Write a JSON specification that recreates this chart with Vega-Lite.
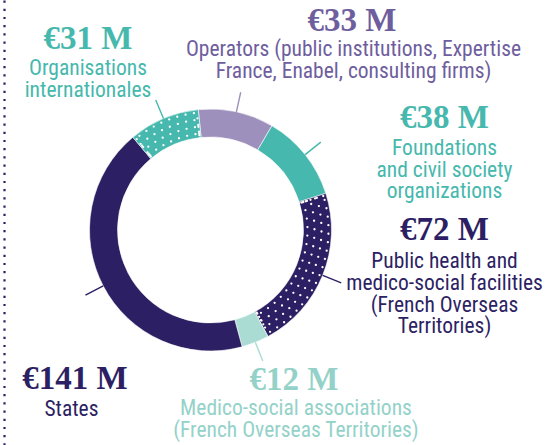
{
  "$schema": "https://vega.github.io/schema/vega-lite/v6.json",
  "width": 413,
  "height": 445,
  "autosize": {"type": "none"},
  "padding": {"left": 4, "top": 0, "right": 137, "bottom": 0},
  "background": "white",
  "config": {"view": {"stroke": null}},
  "data": {
    "values": [
      {"key": "op", "value": 33, "ord": 1, "amount": "€33 M", "desc": "Operators (public institutions, Expertise\nFrance, Enabel, consulting firms)"},
      {"key": "fnd", "value": 38, "ord": 2, "amount": "€38 M", "desc": "Foundations\nand civil society\norganizations"},
      {"key": "ph", "value": 72, "ord": 3, "amount": "€72 M", "desc": "Public health and\nmedico-social facilities\n(French Overseas\nTerritories)"},
      {"key": "med", "value": 12, "ord": 4, "amount": "€12 M", "desc": "Medico-social associations\n(French Overseas Territories)"},
      {"key": "st", "value": 141, "ord": 5, "amount": "€141 M", "desc": "States"},
      {"key": "org", "value": 31, "ord": 6, "amount": "€31 M", "desc": "Organisations\ninternationales"}
    ]
  },
  "transform": [
    {"joinaggregate": [{"op": "sum", "field": "value", "as": "total"}]},
    {"stack": "value", "groupby": [], "sort": [{"field": "ord", "order": "ascending"}], "as": ["v0", "v1"]},
    {"calculate": "datum.v0 / datum.total", "as": "f0"},
    {"calculate": "datum.v1 / datum.total", "as": "f1"},
    {"calculate": "(datum.v0 + datum.v1) / 2 / datum.total", "as": "fmid"}
  ],
  "layer": [
    {
      "mark": {"type": "point", "opacity": 0},
      "encoding": {
        "y": {"field": "value", "type": "quantitative",
          "axis": {"domain": true, "domainColor": "#2d1f63", "domainWidth": 2.2, "domainDash": [2.2, 6], "ticks": false, "labels": false, "grid": false, "title": null}}
      }
    },
    {
      "mark": {"type": "arc", "radius": 121, "radius2": 93, "stroke": "#ffffff", "strokeWidth": 0.6, "yOffset": 7.5},
      "encoding": {
        "theta": {"field": "f0", "type": "quantitative", "stack": null, "scale": {"domain": [0, 1], "range": [-0.10123, 6.18195], "nice": false}},
        "theta2": {"field": "f1"},
        "color": {"field": "key", "type": "nominal", "legend": null,
          "scale": {"domain": ["op", "fnd", "ph", "med", "st", "org"], "range": ["#9d90bd", "#46b8ad", "#2d1f63", "#aadcd4", "#2d1f63", "#46b8ad"]}}
      }
    },
    {
      "transform": [{"filter": {"field": "key", "oneOf": ["org", "ph"]}}],
      "mark": {"type": "arc", "radius": 97, "filled": false, "stroke": "#ffffff", "strokeWidth": 2.3, "strokeDash": [0, 8.5], "strokeCap": "round", "padAngle": 0.03, "yOffset": 7.5},
      "encoding": {"theta": {"field": "f0", "type": "quantitative", "stack": null}, "theta2": {"field": "f1"}}
    },
    {
      "transform": [{"filter": {"field": "key", "oneOf": ["org", "ph"]}}],
      "mark": {"type": "arc", "radius": 104, "filled": false, "stroke": "#ffffff", "strokeWidth": 2.3, "strokeDash": [0, 8.5], "strokeDashOffset": 4.25, "strokeCap": "round", "padAngle": 0.03, "yOffset": 7.5},
      "encoding": {"theta": {"field": "f0", "type": "quantitative", "stack": null}, "theta2": {"field": "f1"}}
    },
    {
      "transform": [{"filter": {"field": "key", "oneOf": ["org", "ph"]}}],
      "mark": {"type": "arc", "radius": 111, "filled": false, "stroke": "#ffffff", "strokeWidth": 2.3, "strokeDash": [0, 8.5], "strokeCap": "round", "padAngle": 0.03, "yOffset": 7.5},
      "encoding": {"theta": {"field": "f0", "type": "quantitative", "stack": null}, "theta2": {"field": "f1"}}
    },
    {
      "transform": [{"filter": {"field": "key", "oneOf": ["org", "ph"]}}],
      "mark": {"type": "arc", "radius": 118, "filled": false, "stroke": "#ffffff", "strokeWidth": 2.3, "strokeDash": [0, 8.5], "strokeDashOffset": 4.25, "strokeCap": "round", "padAngle": 0.03, "yOffset": 7.5},
      "encoding": {"theta": {"field": "f0", "type": "quantitative", "stack": null}, "theta2": {"field": "f1"}}
    },
    {
      "mark": {"type": "arc", "radius": 141, "radius2": 121, "filled": false, "strokeWidth": 1.4, "yOffset": 7.5},
      "encoding": {
        "theta": {"field": "fmid", "type": "quantitative", "stack": null},
        "theta2": {"field": "fmid"},
        "stroke": {"field": "key", "type": "nominal", "legend": null,
          "scale": {"domain": ["op", "fnd", "ph", "med", "st", "org"], "range": ["#9d90bd", "#46b8ad", "#2d1f63", "#aadcd4", "#2d1f63", "#46b8ad"]}}
      }
    },
    {
      "mark": {"type": "text", "radius": 141, "font": "Liberation Serif", "fontWeight": "bold", "fontSize": 33, "align": "center", "baseline": "alphabetic",
        "dx": {"expr": "{op: 111.3, fnd: 123.7, ph: 103.3, med: 31.2, st: -10.5, org: -67.7}[datum.key]"},
        "dy": {"expr": "{op: -54.1, fnd: -6.3, ph: -35.3, med: 36.6, st: 101.3, org: -43.6}[datum.key]"}},
      "encoding": {
        "theta": {"field": "fmid", "type": "quantitative", "stack": null},
        "text": {"field": "amount"},
        "fill": {"field": "key", "type": "nominal", "legend": null,
          "scale": {"domain": ["op", "fnd", "ph", "med", "st", "org"], "range": ["#6e5e9e", "#46b8ad", "#2d1f63", "#94d2c9", "#2d1f63", "#46b8ad"]}}
      }
    },
    {
      "mark": {"type": "text", "radius": 141, "font": "Roboto Condensed, Liberation Sans Narrow, Roboto", "fontSize": 21.5, "lineBreak": "\n", "lineHeight": 21.6, "align": "center", "baseline": "alphabetic",
        "dx": {"expr": "{op: 112.8, fnd: 123.7, ph: 103.3, med: 33.2, st: -14, org: -67.7}[datum.key]"},
        "dy": {"expr": "{op: -28.3, fnd: 20.4, ph: -7.0, med: 61.6, st: 128.3, org: -17.6}[datum.key]"}},
      "encoding": {
        "theta": {"field": "fmid", "type": "quantitative", "stack": null},
        "text": {"field": "desc"},
        "fill": {"field": "key", "type": "nominal", "legend": null}
      }
    }
  ]
}
